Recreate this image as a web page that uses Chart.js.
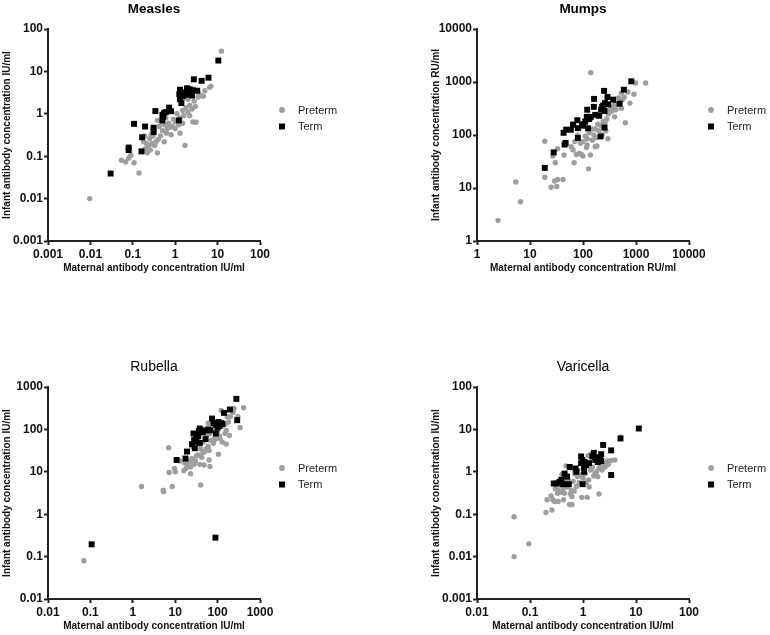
<!DOCTYPE html>
<html>
<head>
<meta charset="utf-8">
<script src="https://cdn.jsdelivr.net/npm/chart.js@4.4.0/dist/chart.umd.min.js"></script>
<style>
    body { margin: 0; background: #fff; }
    .panel { position: absolute; }
</style>
</head>
<body>
<canvas class="panel" id="measlesChart" width="385" height="320" style="left:0;top:0"></canvas>
<canvas class="panel" id="mumpsChart" width="385" height="320" style="left:385px;top:0"></canvas>
<canvas class="panel" id="rubellaChart" width="385" height="315" style="left:0;top:320px"></canvas>
<canvas class="panel" id="varicellaChart" width="385" height="315" style="left:385px;top:320px"></canvas>
<script>
const seriesNames = ['Preterm', 'Term'];

// [maternal, infant] pairs
const measlesPreterm = [[12.3,30],[7,4.5],[6.5,4.2],[4.6,2.6],[4,2.7],[3.5,2.5],[3,1.5],[3.1,0.63],[2.6,0.64],[2.8,2.0],[2.5,1.3],[2.2,1.6],[2,1.1],[1.8,1.4],[1.6,0.9],[1.5,1.2],[1.3,0.8],[1.2,0.55],[1.1,1.0],[1.0,0.65],[0.9,0.75],[0.85,0.5],[0.8,0.32],[0.7,0.6],[0.65,0.45],[0.6,0.8],[0.55,0.55],[0.5,0.4],[0.48,0.65],[0.45,0.3],[0.42,0.5],[0.4,0.25],[0.38,0.7],[0.35,0.22],[0.33,0.18],[0.3,0.3],[0.28,0.2],[0.26,0.14],[0.25,0.26],[0.24,0.18],[0.22,0.12],[0.21,0.2],[0.2,0.15],[0.19,0.3],[0.18,0.22],[0.17,0.13],[0.38,0.12],[0.55,0.22],[1.7,0.18],[1.3,0.35],[0.14,0.04],[0.107,0.07],[0.068,0.073],[0.054,0.08],[0.09,0.105],[0.08,0.09],[0.0096,0.01],[1.4,1.9],[2.0,2.2],[3.5,3.2],[5,3.5],[1.0,0.45],[0.75,0.48],[1.5,0.6],[2.2,0.9],[0.62,0.35],[0.3,0.45],[0.27,0.32],[1.8,2.4]];
const measlesTerm = [[10.4,18],[6.1,7.1],[4.2,6],[2.75,6.5],[3.3,3.5],[2.6,3.6],[2.2,3.8],[1.9,4.0],[1.6,3.2],[1.3,3.7],[1.25,2.9],[1.3,2.2],[1.5,2.6],[1.8,2.8],[2.0,3.1],[2.5,2.7],[1.4,1.8],[0.34,1.16],[0.72,1.4],[0.8,1.15],[0.5,0.95],[0.55,1.05],[0.52,0.85],[0.6,1.1],[1.22,0.7],[0.5,0.7],[0.107,0.58],[0.195,0.5],[0.31,0.47],[0.31,0.37],[0.166,0.28],[0.16,0.13],[0.08,0.16],[0.08,0.14],[0.03,0.039]];

const mumpsPreterm = [[1520,955],[980,955],[915,590],[770,400],[630,170],[395,220],[530,620],[470,500],[395,350],[530,320],[295,85],[140,1500],[127,23],[138,42],[183,62],[116,58],[93,43],[75,43],[68,30],[65,52],[44,42],[42,14.5],[32,10.7],[33,14.5],[29,13.5],[25,10.3],[30,30],[33,55],[27,40],[19,16],[19,76],[5.4,13],[6.6,5.5],[2.5,2.45],[100,75],[110,95],[120,65],[130,110],[150,80],[160,100],[170,130],[200,120],[220,150],[240,180],[260,170],[280,200],[300,250],[320,300],[350,330],[420,300],[450,380],[500,420],[550,460],[600,520],[700,650],[250,140],[230,100],[180,90],[150,130],[90,70],[80,100],[70,75],[110,150],[140,200],[190,160],[270,120],[210,230],[170,60],[60,60],[85,45],[100,40],[120,85],[350,280],[400,380]];
const mumpsTerm = [[815,1030],[590,716],[490,390],[370,465],[290,520],[250,680],[255,283],[220,300],[240,360],[260,400],[230,340],[255,138],[215,94],[162,480],[160,340],[120,300],[118,220],[124,134],[140,220],[170,240],[100,160],[80,135],[65,157],[59,126],[78,190],[96,150],[80,88],[48,126],[43,110],[47,71],[45,66],[28,47],[19,24],[200,230],[130,200],[300,380],[110,180]];

const rubellaPreterm = [[410,325],[340,110],[245,310],[190,72],[150,80],[160,95],[122,280],[114,61],[160,45],[105,26],[80,47],[63,32],[63,19],[66,13.3],[40,4.9],[48,14.5],[42,22],[32,24],[24.5,20.5],[23,13],[23,9],[16,10.6],[17,16],[13,18],[10,10],[9.6,12],[7.2,9.6],[7,37],[8.5,4.5],[5.3,3.4],[5.2,3.7],[1.6,4.5],[0.07,0.08],[200,200],[180,150],[130,120],[100,90],[90,60],[70,55],[60,40],[55,35],[50,30],[45,28],[40,35],[35,25],[30,18],[28,15],[26,20],[20,14],[18,12],[25,40],[35,45],[45,50],[55,70],[65,80],[75,100],[85,60],[110,70],[130,50],[150,130],[170,200],[230,250],[300,200],[95,110],[60,140],[22,17],[38,15]];
const rubellaTerm = [[277,525],[195,295],[142,245],[290,165],[120,140],[105,150],[90,130],[110,120],[74,180],[91,80],[66,95],[38,105],[36,91],[32,60],[29,51],[27,80],[28,56],[29,36],[38,48],[52,59],[19,30],[17.5,20.5],[10.8,19],[89,0.28],[0.107,0.195],[45,85],[60,100],[80,140],[130,135],[35,70],[48,95],[25,45],[100,110]];

const varicellaPreterm = [[5.1,6.6],[4,1.9],[3.4,1.85],[2.9,1.8],[2.6,1.3],[2.2,1.4],[2.0,1.2],[2.1,1.5],[2.0,0.3],[1.9,0.77],[1.7,0.91],[1.4,1.1],[1.28,0.64],[1.3,0.44],[1.2,0.25],[0.95,0.25],[1.25,2.4],[0.9,0.84],[0.79,0.77],[0.65,0.6],[0.62,0.26],[0.62,0.17],[0.56,0.17],[0.6,0.37],[0.5,0.44],[0.48,1.38],[0.45,0.31],[0.4,0.87],[0.36,0.49],[0.34,0.37],[0.33,0.31],[0.34,0.2],[0.29,0.2],[0.27,0.22],[0.25,0.27],[0.26,0.126],[0.21,0.22],[0.2,0.11],[0.43,0.22],[0.05,0.087],[0.095,0.02],[0.05,0.01],[1.5,1.3],[1.6,0.8],[1.8,1.0],[1.1,0.9],[1.0,0.7],[0.85,0.55],[0.75,0.45],[0.7,0.9],[0.55,0.5],[0.52,0.65],[0.42,0.4],[0.38,0.33],[0.3,0.4],[2.5,1.6],[3.0,1.5],[1.4,2.6],[1.05,1.2],[0.8,1.1],[2.3,1.1],[0.58,0.3],[0.46,0.6],[1.15,0.55],[0.68,0.35]];
const varicellaTerm = [[11.3,10.5],[5.1,6.1],[3.4,3.2],[2.4,4.3],[3.4,0.84],[2.2,2.6],[2.1,2.0],[1.8,2.2],[1.6,2.8],[1.5,2.3],[2.2,1.8],[1.9,1.7],[1.15,1.44],[1.07,1.7],[1.05,1.3],[0.97,1.9],[0.92,2.3],[0.92,1.6],[1.05,1.0],[0.98,0.51],[0.75,1.0],[0.72,1.2],[0.56,1.3],[0.5,0.77],[0.45,0.91],[0.39,0.65],[0.36,0.58],[0.32,0.53],[0.28,0.53],[0.42,0.51],[0.54,0.51],[1.3,1.6],[1.7,1.9]];

// tick values and labels
const ticks001to100 = [0.001, 0.01, 0.1, 1, 10, 100];
const labels001to100 = ['0.001', '0.01', '0.1', '1', '10', '100'];
const ticks1to10000 = [1, 10, 100, 1000, 10000];
const labels1to10000 = ['1', '10', '100', '1000', '10000'];
const ticks01to1000 = [0.01, 0.1, 1, 10, 100, 1000];
const labels01to1000 = ['0.01', '0.1', '1', '10', '100', '1000'];
const ticks01to100 = [0.01, 0.1, 1, 10, 100];
const labels01to100 = ['0.01', '0.1', '1', '10', '100'];

const FONT = "'Liberation Sans', Arial, sans-serif";
const GREY = 'rgb(158, 158, 158)';
const BLACK = '#000';

function toPoints(pairs) {
    return pairs.map(p => ({ x: p[0], y: p[1] }));
}

function logAxis(values, labels, titleText, isY) {
    return {
        type: 'logarithmic',
        min: values[0],
        max: values[values.length - 1],
        afterBuildTicks: scale => { scale.ticks = values.map(v => ({ value: v })); },
        afterFit: scale => {
            if (isY) scale.width = 48;
            else scale.height = 33;
        },
        ticks: {
            autoSkip: false,
            maxRotation: 0,
            padding: isY ? 1 : 2,
            color: '#111',
            font: { family: FONT, size: 12, weight: 'bold' },
            callback: v => labels[values.indexOf(v)]
        },
        grid: {
            display: true,
            drawOnChartArea: false,
            drawTicks: true,
            tickLength: 4,
            tickWidth: 2,
            tickColor: '#222'
        },
        border: { display: true, color: '#222', width: 2 },
        title: {
            display: true,
            text: titleText,
            color: '#111',
            font: { family: FONT, size: 10, weight: 'bold' },
            padding: isY ? { top: 1.5, bottom: 0 } : { top: 0, bottom: 0 }
        }
    };
}

const panelDecor = {
    id: 'panelDecor',
    afterDraw(chart, args, opts) {
        const ctx = chart.ctx;
        const area = chart.chartArea;
        ctx.save();
        // title
        ctx.fillStyle = '#000';
        ctx.textAlign = 'center';
        ctx.textBaseline = 'middle';
        ctx.font = opts.titleFont;
        ctx.fillText(opts.title, (area.left + area.right) / 2, area.top - 19.5);
        // legend
        ctx.font = '11px ' + FONT;
        ctx.textAlign = 'left';
        chart.data.datasets.forEach((ds, i) => {
            const mx = area.right + 22;
            const my = area.top + 81 + i * 16.5;
            ctx.fillStyle = ds.backgroundColor;
            ctx.beginPath();
            if (ds.pointStyle === 'rect') {
                ctx.rect(mx - 3, my - 3, 6, 6);
            } else {
                ctx.arc(mx, my, 2.9, 0, Math.PI * 2);
            }
            ctx.fill();
            ctx.fillStyle = '#222';
            ctx.fillText(ds.label, mx + 16, my + 0.5);
        });
        ctx.restore();
    }
};

function makeChart(id, title, titleFont, preterm, term, xVals, xLabels, yVals, yLabels, unit, pad) {
    const ctx = document.getElementById(id).getContext('2d');
    return new Chart(ctx, {
        type: 'scatter',
        data: {
            datasets: [{
                label: seriesNames[0],
                data: toPoints(preterm),
                backgroundColor: GREY,
                pointStyle: 'circle',
                pointRadius: 2.7,
                borderWidth: 0,
                order: 1
            }, {
                label: seriesNames[1],
                data: toPoints(term),
                backgroundColor: BLACK,
                pointStyle: 'rect',
                pointRadius: 4.2,
                borderWidth: 0,
                order: 0
            }]
        },
        options: {
            responsive: false,
            animation: false,
            layout: { padding: pad },
            scales: {
                x: logAxis(xVals, xLabels, 'Maternal antibody concentration ' + unit, false),
                y: logAxis(yVals, yLabels, 'Infant antibody concentration ' + unit, true)
            },
            plugins: {
                legend: { display: false },
                tooltip: { enabled: false },
                panelDecor: { title: title, titleFont: titleFont }
            }
        },
        plugins: [panelDecor]
    });
}

const boldTitle = 'bold 13.5px ' + FONT;
const plainTitle = '14px ' + FONT;

makeChart('measlesChart', 'Measles', boldTitle, measlesPreterm, measlesTerm,
    ticks001to100, labels001to100, ticks001to100, labels001to100, 'IU/ml',
    { left: 0, top: 29, right: 125, bottom: 46 });

makeChart('mumpsChart', 'Mumps', boldTitle, mumpsPreterm, mumpsTerm,
    ticks1to10000, labels1to10000, ticks1to10000, labels1to10000, 'RU/ml',
    { left: 44, top: 29, right: 81, bottom: 46 });

makeChart('rubellaChart', 'Rubella', plainTitle, rubellaPreterm, rubellaTerm,
    ticks01to1000, labels01to1000, ticks01to1000, labels01to1000, 'IU/ml',
    { left: 0, top: 67, right: 125, bottom: 3 });

makeChart('varicellaChart', 'Varicella', plainTitle, varicellaPreterm, varicellaTerm,
    ticks01to100, labels01to100, ticks001to100, labels001to100, 'IU/ml',
    { left: 44, top: 67, right: 81, bottom: 3 });
</script>
</body>
</html>
